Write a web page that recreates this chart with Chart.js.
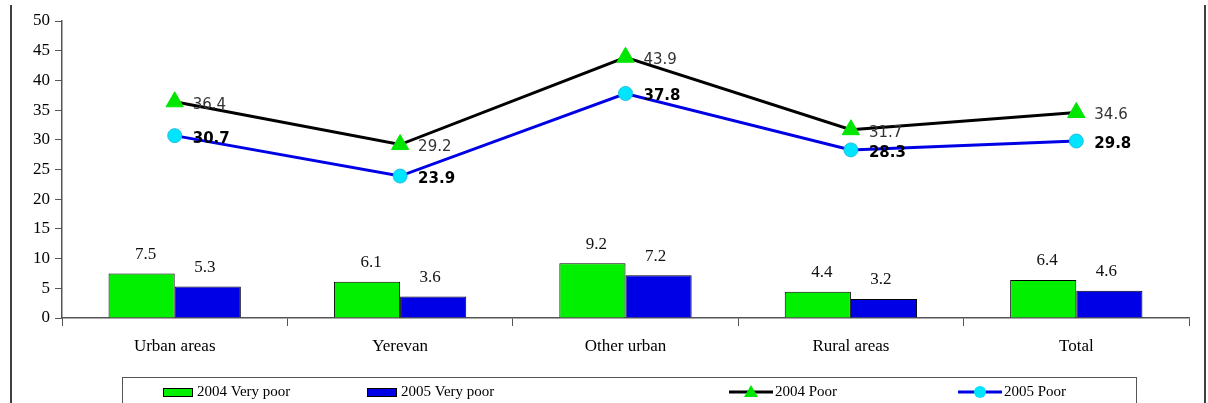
<!DOCTYPE html>
<html>
<head>
<meta charset="utf-8">
<script src="https://cdn.jsdelivr.net/npm/chart.js@4"></script>
<style>
  html, body { margin: 0; padding: 0; background: #fff; }
  #wrap { width: 1208px; height: 403px; }
</style>
</head>
<body>
<div id="wrap"><canvas id="povChart" width="1208" height="403"></canvas></div>
<script>
const categories = ['Urban areas', 'Yerevan', 'Other urban', 'Rural areas', 'Total'];
const veryPoor2004 = [7.5, 6.1, 9.2, 4.4, 6.4];
const veryPoor2005 = [5.3, 3.6, 7.2, 3.2, 4.6];
const poor2004 = [36.4, 29.2, 43.9, 31.7, 34.6];
const poor2005 = [30.7, 23.9, 37.8, 28.3, 29.8];
const yTicks = [0, 5, 10, 15, 20, 25, 30, 35, 40, 45, 50];

const serif = '"Liberation Serif", "DejaVu Serif", serif';
const sans = '"DejaVu Sans", Verdana, sans-serif';

// value labels next to points / above bars
const valueLabels = {
  id: 'valueLabels',
  afterDatasetsDraw(chart) {
    const ctx = chart.ctx;
    ctx.save();
    chart.data.datasets.forEach((ds, i) => {
      const meta = chart.getDatasetMeta(i);
      meta.data.forEach((el, j) => {
        const v = ds.data[j].toFixed(1);
        if (ds.type === 'bar') {
          ctx.font = '17px ' + serif;
          ctx.fillStyle = '#111';
          ctx.textAlign = 'center';
          ctx.textBaseline = 'middle';
          ctx.fillText(v, el.x + (i === 0 ? 4 : -3), el.y - 19);
        } else {
          ctx.font = (i === 3 ? 'bold ' : '') + '15px ' + sans;
          ctx.fillStyle = i === 3 ? '#000' : '#333';
          ctx.textAlign = 'left';
          ctx.textBaseline = 'middle';
          ctx.fillText(v, el.x + 18, el.y + 3);
        }
      });
    });
    ctx.restore();
  }
};

// frame lines and the boxed legend
const frameLegend = {
  id: 'frameLegend',
  afterDraw(chart) {
    const ctx = chart.ctx;
    ctx.save();
    ctx.strokeStyle = '#000';
    ctx.lineWidth = 1.5;
    ctx.beginPath();
    ctx.moveTo(11, 5); ctx.lineTo(11, 403);
    ctx.moveTo(1205, 5); ctx.lineTo(1205, 403);
    ctx.stroke();

    ctx.strokeStyle = '#555';
    ctx.lineWidth = 1;
    ctx.strokeRect(122.5, 377.5, 1014, 40);

    const ds = chart.data.datasets;
    const cy = 392;
    ctx.font = '15px ' + serif;
    ctx.textAlign = 'left';
    ctx.textBaseline = 'middle';
    const items = [
      { x: 163, ds: ds[0] },
      { x: 367, ds: ds[1] },
      { x: 729, ds: ds[2] },
      { x: 958, ds: ds[3] }
    ];
    items.forEach(it => {
      const d = it.ds;
      if (d.type === 'bar') {
        ctx.fillStyle = d.backgroundColor;
        ctx.fillRect(it.x, cy - 4, 29, 8);
        ctx.strokeStyle = '#000';
        ctx.strokeRect(it.x + 0.5, cy - 3.5, 29, 8);
        ctx.fillStyle = '#000';
        ctx.fillText(d.label, it.x + 34, cy);
      } else {
        ctx.strokeStyle = d.borderColor;
        ctx.lineWidth = 3;
        ctx.beginPath();
        ctx.moveTo(it.x, cy); ctx.lineTo(it.x + 44, cy);
        ctx.stroke();
        ctx.lineWidth = 1;
        ctx.fillStyle = d.pointBackgroundColor;
        ctx.beginPath();
        if (d.pointStyle === 'triangle') {
          ctx.moveTo(it.x + 22, cy - 7);
          ctx.lineTo(it.x + 29, cy + 5);
          ctx.lineTo(it.x + 15, cy + 5);
          ctx.closePath();
        } else {
          ctx.arc(it.x + 22, cy, 6, 0, Math.PI * 2);
        }
        ctx.fill();
        ctx.fillStyle = '#000';
        ctx.fillText(d.label, it.x + 46, cy);
      }
    });
    ctx.restore();
  }
};

new Chart(document.getElementById('povChart'), {
  data: {
    labels: categories,
    datasets: [
      {
        type: 'bar', label: '2004 Very poor', data: veryPoor2004,
        backgroundColor: '#00f000', borderColor: '#000', borderWidth: 1,
        barPercentage: 1, categoryPercentage: 0.587, order: 2
      },
      {
        type: 'bar', label: '2005 Very poor', data: veryPoor2005,
        backgroundColor: '#0000e6', borderColor: '#000', borderWidth: 1,
        barPercentage: 1, categoryPercentage: 0.587, order: 2
      },
      {
        type: 'line', label: '2004 Poor', data: poor2004,
        borderColor: '#000', borderWidth: 3, pointStyle: 'triangle',
        pointRadius: 10, pointBackgroundColor: '#00e600', pointBorderColor: '#00e600',
        pointBorderWidth: 1, tension: 0, order: 1
      },
      {
        type: 'line', label: '2005 Poor', data: poor2005,
        borderColor: '#0000e6', borderWidth: 3, pointStyle: 'circle',
        pointRadius: 7, pointBackgroundColor: '#00e5ff', pointBorderColor: '#20c0e0',
        pointBorderWidth: 1, tension: 0, order: 0
      }
    ]
  },
  options: {
    responsive: false,
    animation: false,
    layout: { padding: { top: 21, right: 19, left: 0, bottom: 0 } },
    plugins: { legend: { display: false }, tooltip: { enabled: false } },
    scales: {
      x: {
        offset: true,
        grid: { offset: true, drawOnChartArea: false, color: '#555', tickLength: 8 },
        border: { color: '#555', width: 1.5 },
        ticks: { color: '#000', font: { family: serif, size: 17 }, padding: 10 },
        afterFit(s) { s.height = 85; }
      },
      y: {
        min: 0, max: 50,
        afterBuildTicks(s) { s.ticks = yTicks.map(v => ({ value: v })); },
        grid: { drawOnChartArea: false, color: '#555', tickLength: 7 },
        border: { color: '#555', width: 1.5 },
        ticks: { color: '#000', font: { family: serif, size: 17 }, padding: 5 },
        afterFit(s) { s.width = 62; }
      }
    }
  },
  plugins: [valueLabels, frameLegend]
});
</script>
</body>
</html>
